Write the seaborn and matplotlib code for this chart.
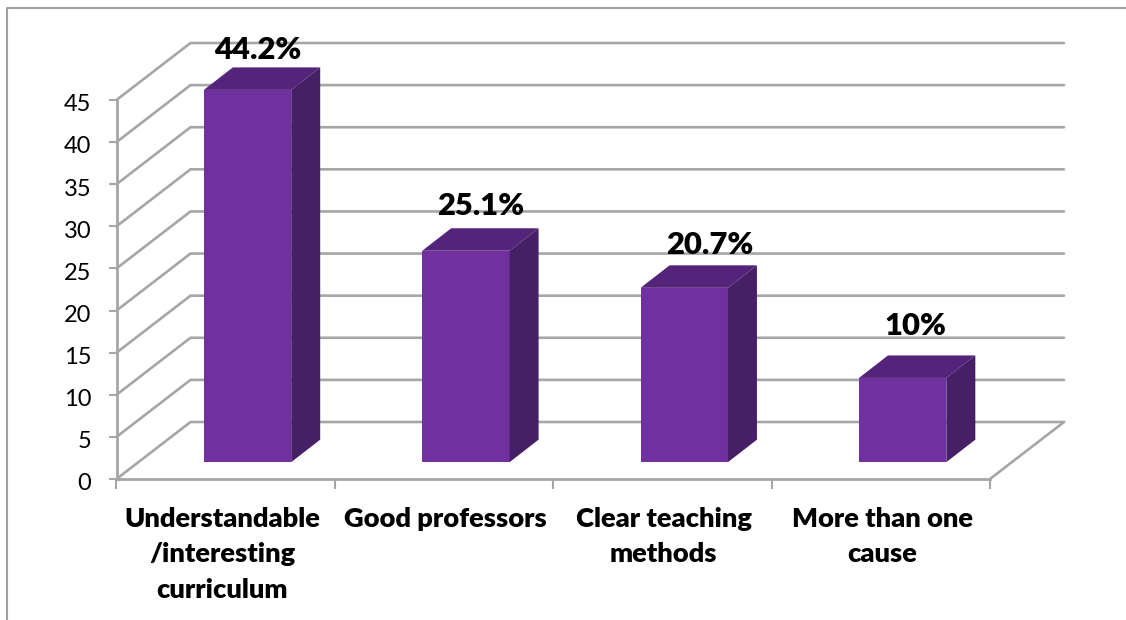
import matplotlib
matplotlib.use('Agg')
import matplotlib.pyplot as plt
import seaborn as sns
from matplotlib.lines import Line2D
from matplotlib.patches import Polygon
from matplotlib.transforms import ScaledTranslation

# DATA
categories = ['Understandable\n/interesting\ncurriculum', 'Good professors',
              'Clear teaching\nmethods', 'More than one\ncause']
values = [44.2, 25.1, 20.7, 10]
value_labels = ['44.2%', '25.1%', '20.7%', '10%']
y_ticks = [0, 5, 10, 15, 20, 25, 30, 35, 40, 45]

W, H = 1126, 620
sns.set_style('white')
plt.rcParams['font.family'] = ['Lato', 'DejaVu Sans']

grid_color = '#a6a6a6'
front_color = '#7030a0'
top_color = '#54247a'
side_color = '#461f66'

fig = plt.figure(figsize=(W / 100, H / 100), dpi=100)
# axes box = front plane of the fake 3D chart, in pixels
left, right, bottom, top = 116.5, 990, 479, 100
ax = fig.add_axes([left / W, 1 - bottom / H, (right - left) / W, (bottom - top) / H])

# Front faces
sns.barplot(x=list(range(4)), y=values, color=front_color, saturation=1, width=0.4,
            bottom=2.0, ax=ax, zorder=3, linewidth=0, clip_on=False)
ax.set_xlim(-0.5, 3.5)
ax.set_ylim(0, 45)

px_x = 4 / (right - left)   # category units per pixel
px_y = 45 / (bottom - top)  # value units per pixel

# Back wall + floor
wall_dx, wall_dy = 74 * px_x, 57 * px_y
for t in y_ticks:
    ax.plot([-0.5, -0.5 + wall_dx, 3.5 + wall_dx], [t, t + wall_dy, t + wall_dy],
            color=grid_color, lw=1.9, clip_on=False, zorder=1, solid_joinstyle='miter')
ax.plot([3.5, 3.5 + wall_dx], [0, wall_dy], color=grid_color, lw=1.9, clip_on=False, zorder=1)

# Move bars back from the front plane, add top and side faces, labels
bar_dx, bar_dy = 29 * px_x, 22.5 * px_y
label_gap = [8, 13, 11, 20]
label_shift = [-1.5, 2.5, 13, 0.7]
for i, p in enumerate(ax.patches[:4]):
    p.set_x(p.get_x() + 0.1)
    x0, x1 = p.get_x(), p.get_x() + p.get_width()
    y0, y1 = p.get_y(), p.get_y() + p.get_height()
    ax.add_patch(Polygon([(x0, y1), (x1, y1), (x1 + bar_dx, y1 + bar_dy), (x0 + bar_dx, y1 + bar_dy)],
                         closed=True, fc=top_color, ec='none', clip_on=False, zorder=3))
    ax.add_patch(Polygon([(x1, y0), (x1, y1), (x1 + bar_dx, y1 + bar_dy), (x1 + bar_dx, y0 + bar_dy)],
                         closed=True, fc=side_color, ec='none', clip_on=False, zorder=3))
    ax.annotate(value_labels[i], xy=(i + 0.155, y1 + bar_dy),
                xytext=(label_shift[i] * 0.72, label_gap[i] * 0.72),
                textcoords='offset points', ha='center', va='baseline', fontsize=22.3,
                fontweight='heavy', color='black', annotation_clip=False, zorder=5)

# Axes
sns.despine(ax=ax, top=True, right=True)
for s in ['left', 'bottom']:
    ax.spines[s].set_color(grid_color)
    ax.spines[s].set_linewidth(2)
ax.set_yticks(y_ticks)
ax.set_yticklabels([str(t) for t in y_ticks], fontsize=17)
ax.tick_params(axis='y', length=6, width=1.5, color=grid_color, pad=12, left=True, labelcolor='black')
for lab in ax.get_yticklabels():
    lab.set_transform(lab.get_transform() + ScaledTranslation(0, -2 / 72, fig.dpi_scale_trans))
ax.set_xticks([-0.5, 0.5, 1.5, 2.5, 3.5])
ax.set_xticklabels([])
ax.tick_params(axis='x', which='major', length=7, width=1.5, color=grid_color, bottom=True)
ax.set_xticks([-0.015, 1.006, 2.006, 3.006], minor=True)
ax.set_xticklabels(categories, minor=True, fontsize=19.6, fontweight='heavy', linespacing=1.58)
ax.tick_params(axis='x', which='minor', length=0, pad=20, labelcolor='black')
ax.set_xlabel('')
ax.set_ylabel('')

# Chart-area border (top and left only are in the frame)
fig.add_artist(Line2D([7 / W, 7 / W, 1], [0, 1 - 8 / H, 1 - 8 / H], color='#a0a0a0', lw=1.5))

fig.savefig('out.png', dpi=100, facecolor='white')
